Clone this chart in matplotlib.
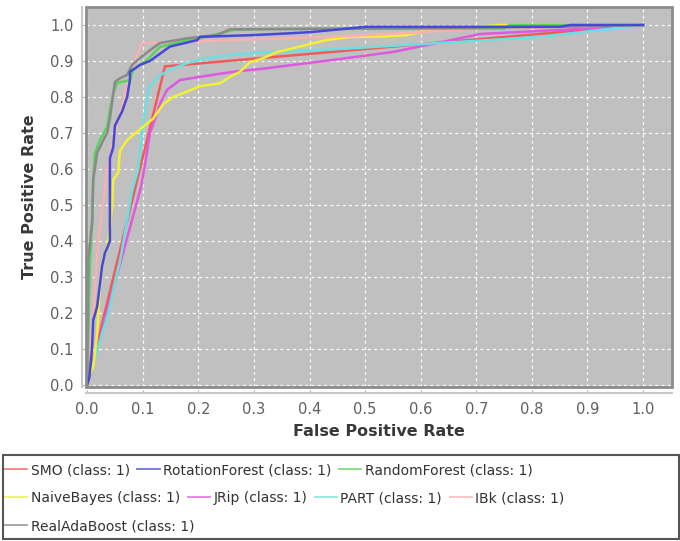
import matplotlib
matplotlib.use("Agg")
import numpy as np
from matplotlib import pyplot as plt
from matplotlib.lines import Line2D
from matplotlib.patches import Rectangle

# ROC points (FPR, TPR)
smo_fpr = [0, 0.14, 1.0]
smo_tpr = [0, 0.885, 1.0]

rotf_fpr = [0, 0.004, 0.009, 0.011, 0.018, 0.023, 0.027, 0.032, 0.036, 0.041, 0.041, 0.047, 0.05,
            0.063, 0.072, 0.077, 0.077, 0.095, 0.113, 0.131, 0.149, 0.198, 0.203, 0.3, 0.365, 0.40,
            0.455, 0.5, 0.85, 0.87, 1.0]
rotf_tpr = [0, 0.02, 0.105, 0.18, 0.217, 0.28, 0.33, 0.366, 0.38, 0.40, 0.63, 0.66, 0.72,
            0.76, 0.80, 0.847, 0.87, 0.889, 0.9, 0.92, 0.94, 0.958, 0.967, 0.972, 0.977, 0.98,
            0.988, 0.995, 0.995, 1.0, 1.0]

rf_fpr = [0, 0.003, 0.005, 0.009, 0.011, 0.014, 0.023, 0.036, 0.041, 0.047, 0.054, 0.077, 0.083,
          0.108, 0.131, 0.167, 0.203, 0.263, 0.33, 0.75, 0.76, 1.0]
rf_tpr = [0, 0.2, 0.33, 0.45, 0.57, 0.644, 0.68, 0.717, 0.764, 0.81, 0.839, 0.847, 0.875,
          0.903, 0.939, 0.953, 0.963, 0.986, 0.989, 0.99, 1.0, 1.0]

nb_fpr = [0, 0.005, 0.011, 0.018, 0.023, 0.029, 0.036, 0.041, 0.045, 0.047, 0.056, 0.059, 0.072,
          0.095, 0.119, 0.128, 0.137, 0.155, 0.18, 0.203, 0.239, 0.257, 0.275, 0.293, 0.317, 0.342,
          0.383, 0.43, 0.473, 0.533, 0.575, 0.6, 0.635, 0.665, 0.743, 1.0]
nb_tpr = [0, 0.03, 0.05, 0.14, 0.28, 0.35, 0.38, 0.43, 0.5, 0.57, 0.59, 0.65, 0.68,
          0.71, 0.74, 0.76, 0.78, 0.80, 0.815, 0.83, 0.838, 0.856, 0.87, 0.897, 0.908, 0.925,
          0.94, 0.958, 0.967, 0.968, 0.972, 0.98, 0.988, 0.99, 1.0, 1.0]

jrip_fpr = [0, 0.097, 0.105, 0.113, 0.126, 0.131, 0.137, 0.144, 0.167, 0.203, 0.263, 0.324, 0.442,
            0.55, 0.63, 0.707, 0.9, 1.0]
jrip_tpr = [0, 0.55, 0.62, 0.70, 0.755, 0.78, 0.80, 0.82, 0.847, 0.856, 0.87, 0.88, 0.903,
            0.925, 0.95, 0.975, 0.99, 1.0]

part_fpr = [0, 0.038, 0.06, 0.081, 0.092, 0.099, 0.108, 0.11, 0.131, 0.155, 0.18, 0.203, 0.227,
            0.275, 0.3, 0.473, 0.635, 0.815, 1.0]
part_tpr = [0, 0.2, 0.35, 0.54, 0.6, 0.7, 0.8, 0.825, 0.86, 0.88, 0.894, 0.903, 0.91,
            0.92, 0.922, 0.935, 0.95, 0.967, 1.0]

ibk_fpr = [0, 0.011, 0.02, 0.036, 0.05, 0.065, 0.083, 0.099, 0.2, 0.45, 0.6, 0.7, 1.0]
ibk_tpr = [0, 0.2, 0.4, 0.6, 0.7, 0.79, 0.89, 0.95, 0.955, 0.968, 0.98, 0.99, 1.0]

ada_fpr = [0, 0.002, 0.009, 0.011, 0.018, 0.029, 0.036, 0.041, 0.05, 0.059, 0.072, 0.081, 0.095,
           0.113, 0.131, 0.18, 0.234, 0.257, 0.5, 0.85, 1.0]
ada_tpr = [0, 0.35, 0.45, 0.57, 0.644, 0.68, 0.70, 0.74, 0.842, 0.852, 0.861, 0.889, 0.908,
           0.93, 0.95, 0.963, 0.972, 0.988, 0.99, 0.995, 1.0]

names = ["SMO", "RotationForest", "RandomForest", "NaiveBayes", "JRip", "PART", "IBk", "RealAdaBoost"]
colors = ["#f25a5a", "#4848d8", "#5cd25c", "#f4f032", "#e058e0", "#6ae0e0", "#f8b0b0", "#8a8a8a"]
legend_colors = ["#f48080", "#7070e0", "#80dc80", "#f0f070", "#e080e0", "#90e8e8", "#f8c0c0", "#a0a0a0"]
curves = [(smo_fpr, smo_tpr), (rotf_fpr, rotf_tpr), (rf_fpr, rf_tpr), (nb_fpr, nb_tpr),
          (jrip_fpr, jrip_tpr), (part_fpr, part_tpr), (ibk_fpr, ibk_tpr), (ada_fpr, ada_tpr)]

W, H = 680, 541
fig = plt.figure(figsize=(W / 100, H / 100), dpi=100)
ax = fig.add_axes([86 / W, 1 - 387 / H, (672 - 86) / W, (387 - 7) / H])

ax.set_facecolor("#c0c0c0")
ax.add_patch(Rectangle((0, 0), 1, 1, transform=ax.transAxes, fill=False,
                       edgecolor="#8c8c8c", lw=2, clip_on=False, zorder=5))

# draw back to front so the ensembles sit on top, like the Weka plot
order = [0, 4, 5, 3, 6, 2, 7, 1]
for i in order:
    fpr, tpr = curves[i]
    ax.plot(fpr, tpr, color=colors[i], lw=1.8, zorder=3, solid_joinstyle="miter")

ticks = np.round(np.arange(0, 1.01, 0.1), 1)
ax.set_xticks(ticks)
ax.set_yticks(ticks)
ax.set_xticklabels([f"{t:.1f}" for t in ticks])
ax.set_yticklabels([f"{t:.1f}" for t in ticks])
ax.set_xlim(-0.002, 1.052)
ax.set_ylim(-0.006, 1.05)
ax.grid(True, color="white", linestyle=(0, (2.5, 2.5)), lw=0.9, alpha=0.9)
ax.set_axisbelow(True)

for s in ["top", "right"]:
    ax.spines[s].set_visible(False)
ax.spines["left"].set_position(("outward", 3))
ax.spines["bottom"].set_position(("outward", 4.5))
for s in ["left", "bottom"]:
    ax.spines[s].set_color("#c8c8c8")
    ax.spines[s].set_linewidth(1.5)
ax.tick_params(direction="in", length=2.5, color="#b0b0b0", labelsize=10.5,
               labelcolor="#606060", pad=6)

ax.set_xlabel("False Positive Rate", fontsize=11.5, fontweight="bold", color="#383838", labelpad=5)
ax.set_ylabel("True Positive Rate", fontsize=11.5, fontweight="bold", color="#383838", labelpad=9)

# Weka-style legend box: entries flow in rows
handles = [Line2D([], [], color=c, lw=1.3) for c in legend_colors]
labels = [f"{n} (class: 1)" for n in names]
rows = [[0, 1, 2], [3, 4, 5, 6], [7]]
row_y = [470, 498, 526]
for idx, y in zip(rows, row_y):
    fig.legend([handles[i] for i in idx], [labels[i] for i in idx], loc="center left",
               bbox_to_anchor=(5 / W, 1 - y / H), ncol=len(idx), frameon=False,
               fontsize=10, handlelength=1.6, handletextpad=0.25, columnspacing=0.55,
               borderpad=0, borderaxespad=0, labelcolor="#333333")
fig.add_artist(Rectangle((3 / W, 1 - 539 / H), 676 / W, (539 - 455) / H, transform=fig.transFigure,
                         fill=False, edgecolor="#555555", lw=1.5))

fig.savefig("out.png", dpi=100)
